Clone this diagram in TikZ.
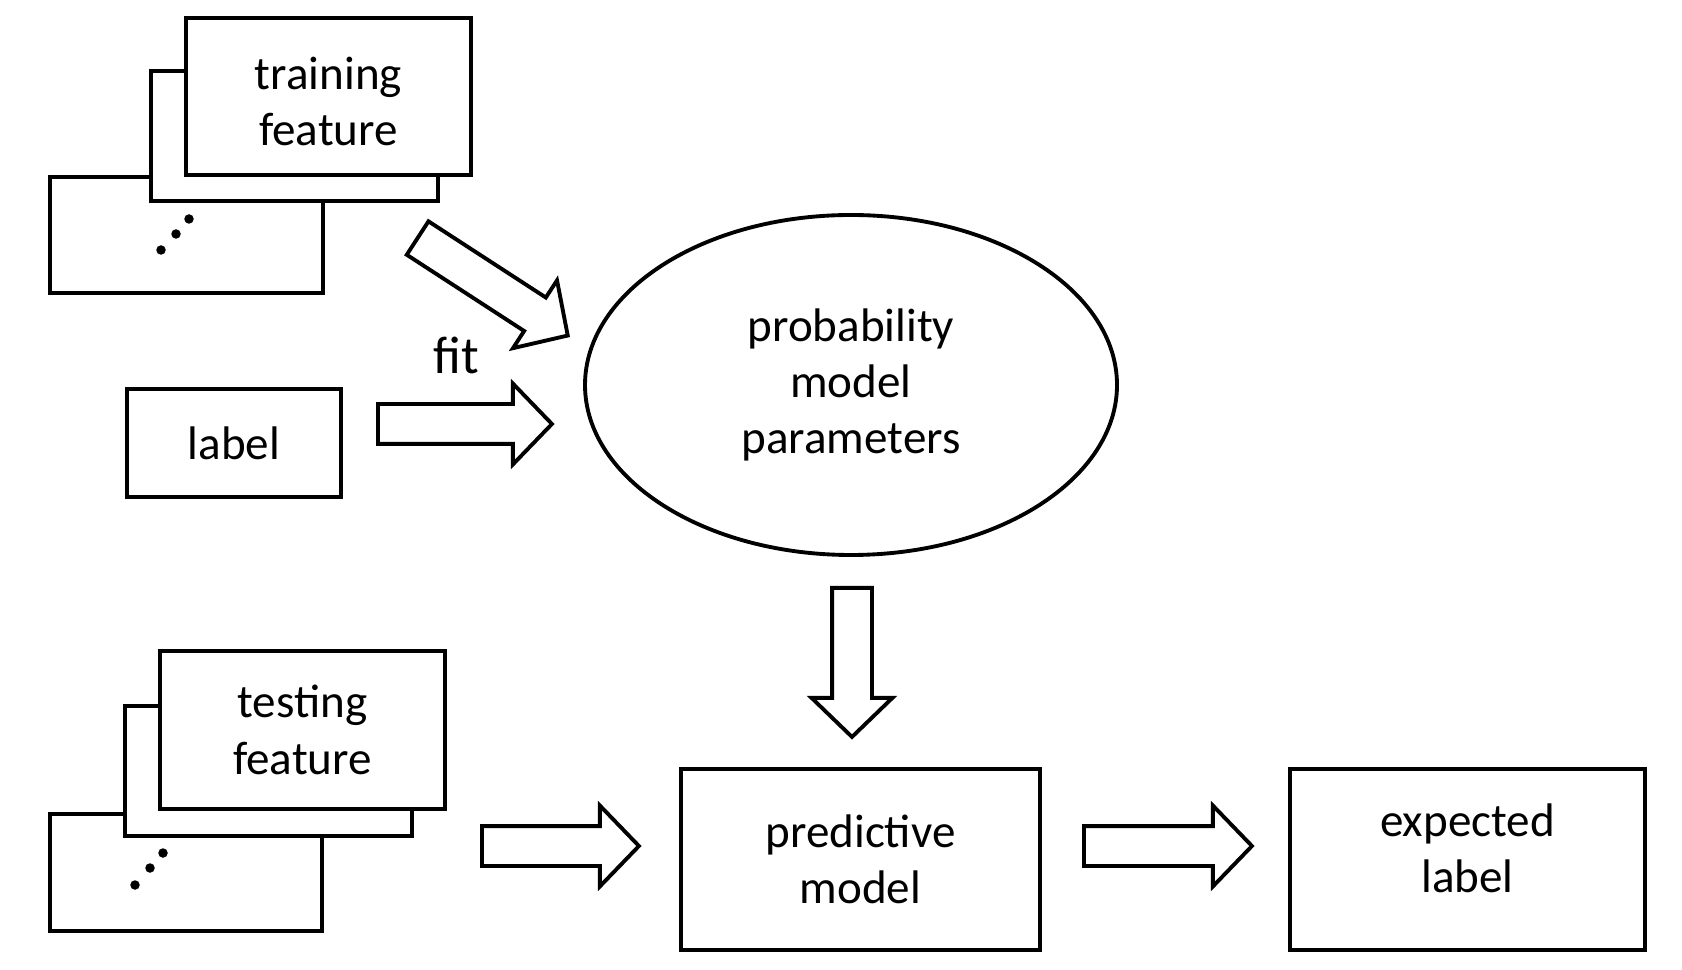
\documentclass[tikz,border=0pt]{standalone}
\usepackage{fontspec}
\setmainfont{Carlito}
\usetikzlibrary{shapes.geometric}
\usetikzlibrary{shapes.arrows}

\tikzset{
  box/.style={draw,line width=1.2pt,fill=white,inner sep=0pt,align=center,font=\fontsize{13.4}{16}\selectfont},
  fatarrow/.style={draw,single arrow,anchor=tail,line width=1.1pt,inner xsep=0pt,inner ysep=1.8mm,minimum width=7.7mm,single arrow head extend=2.05mm,single arrow tip angle=92},
  dot/.style={fill=black,circle,inner sep=0pt,minimum size=0.95mm}
}

\begin{document}
\begin{tikzpicture}[x=0.1mm,y=-0.1mm]
 \useasboundingbox (0,0) rectangle (1682,970);
 % training stack
 \node[box,minimum width=27.3mm,minimum height=11.6mm] (trainback) at (186.5,235) {};
 \node[box,minimum width=28.7mm,minimum height=13mm] (trainmid) at (294.5,136) {};
 \node[box,minimum width=28.5mm,minimum height=15.7mm,text height=9.9mm] (train) at (328.5,96.5) {training\\feature};
 \foreach \x/\y [count=\i] in {161/250,176/234,189/219}
   \node[dot] (tdot\i) at (\x,\y) {};
 % label
 \node[box,minimum width=21.4mm,minimum height=10.8mm] (label) at (234,443) {label};
 \node[font=\fontsize{15}{18}\selectfont] (fit) at (456,355) {fit};
 % model
 \node[box,ellipse,line width=1.1pt,minimum width=53.2mm,minimum height=34mm] (prob) at (851,385) {probability\\model\\parameters};
 \node[fatarrow,minimum height=17.9mm,rotate=-33] (trainarrow) at (416,237) {};
 \node[fatarrow,minimum height=17.4mm] (labelarrow) at (376,424) {};
 \node[fatarrow,minimum height=14.9mm,rotate=-90] (probarrow) at (852,586) {};
 % testing stack
 \node[box,minimum width=27.2mm,minimum height=11.7mm] (testback) at (186,872.5) {};
 \node[box,minimum width=28.7mm,minimum height=13mm] (testmid) at (268.5,771) {};
 \node[box,minimum width=28.5mm,minimum height=15.8mm] (test) at (302.5,730) {testing\\feature};
 \foreach \x/\y [count=\i] in {135/885,150/868,163/853}
   \node[dot] (sdot\i) at (\x,\y) {};
 % prediction
 \node[box,minimum width=35.9mm,minimum height=18.1mm] (pred) at (860.5,859.5) {predictive\\model};
 \node[box,minimum width=35.5mm,minimum height=18.1mm,text depth=2.2mm] (expect) at (1467.5,859.5) {expected\\label};
 \node[fatarrow,minimum height=15.7mm] (testarrow) at (480,846) {};
 \node[fatarrow,minimum height=16.8mm] (predarrow) at (1082,846) {};
\end{tikzpicture}
\end{document}
